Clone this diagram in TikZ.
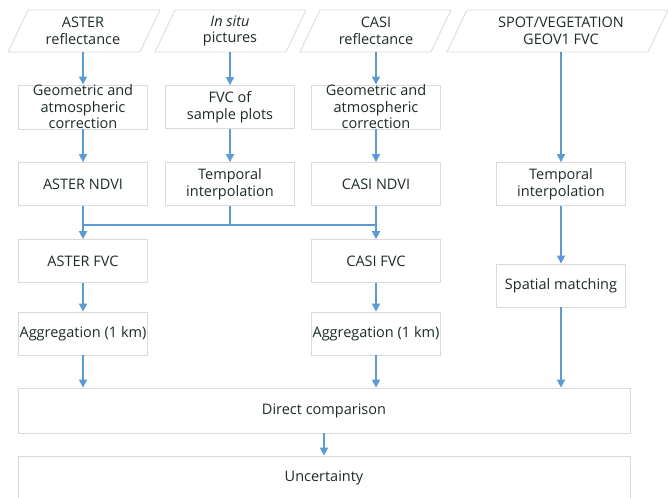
\documentclass[tikz,border=0pt]{standalone}
\usepackage{fontspec}
\setmainfont{Open Sans}
\usetikzlibrary{arrows.meta,calc}
\definecolor{arrowblue}{HTML}{5B9BD5}
\definecolor{boxline}{HTML}{DADADA}
\definecolor{txt}{HTML}{1E2B2B}
\begin{document}
\begin{tikzpicture}[x=1pt,y=-1pt,
  txtfont/.style={font=\fontsize{14.5}{16.5}\selectfont},
  box/.style={draw=boxline,line width=0.8pt,fill=white,minimum width=129pt,minimum height=43pt,align=center,text=txt,txtfont,inner sep=0pt},
  lbl/.style={align=center,text=txt,txtfont,inner sep=0pt,minimum height=42pt,minimum width=100pt},
  parabox/.style={draw=boxline,line width=0.8pt,fill=white},
  arr/.style={draw=arrowblue,line width=1.6pt,-{Triangle[width=8pt,length=8pt]}},
  ln/.style={draw=arrowblue,line width=1.6pt}]
\useasboundingbox (0,0) rectangle (668,497);

% parallelograms
\draw[parabox] (8,52) -- (140,52) -- (160,10) -- (28,10) -- cycle;
\node[lbl] (asterR) at (83,31) {ASTER\\reflectance};
\draw[parabox] (155,52) -- (286,52) -- (306,10) -- (175,10) -- cycle;
\node[lbl] (insitu) at (230,31) {\textit{In situ}\\pictures};
\draw[parabox] (300,52) -- (431,52) -- (451,10) -- (320,10) -- cycle;
\node[lbl] (casiR) at (376,31) {CASI\\reflectance};
\draw[parabox] (447,52) -- (648,52) -- (668,10) -- (467,10) -- cycle;
\node[lbl,minimum width=180pt] (spot) at (561,31) {SPOT/VEGETATION\\GEOV1 FVC};

% row 2
\node[box] (geoA) at (83,107) {Geometric and\\atmospheric\\correction};
\node[box] (fvcs) at (230,107) {FVC of\\sample plots};
\node[box] (geoC) at (376,107) {Geometric and\\atmospheric\\correction};

% row 3
\node[box] (ndviA) at (83,184) {ASTER NDVI};
\node[box] (tiB) at (230,184) {Temporal\\interpolation};
\node[box] (ndviC) at (376,184) {CASI NDVI};
\node[box] (tiD) at (561,184) {Temporal\\interpolation};

% row 4
\node[box] (fvcA) at (83,261) {ASTER FVC};
\node[box] (fvcC) at (376,261) {CASI FVC};
\node[box] (sm) at (561,285.5) {Spatial matching};

% row 5
\node[box] (aggA) at (83,333.5) {Aggregation (1 km)};
\node[box] (aggC) at (376,333.5) {Aggregation (1 km)};

% bottom
\node[box,minimum width=612pt,minimum height=45pt] (direct) at (324,410.5) {Direct comparison};
\node[box,minimum width=612pt,minimum height=43pt] (unc) at (324,477.5) {Uncertainty};

\coordinate (j) at (0,225);

% arrows
\draw[arr] (asterR) -- (geoA);
\draw[arr] (insitu) -- (fvcs);
\draw[arr] (casiR) -- (geoC);
\draw[arr] (spot.south) -- (spot.south |- tiD.north);

\draw[arr] (geoA) -- (ndviA);
\draw[arr] (fvcs) -- (tiB);
\draw[arr] (geoC) -- (ndviC);

\draw[arr] (ndviA) -- (fvcA);
\draw[arr] (ndviC) -- (fvcC);
\draw[ln] (tiB.south) -- (tiB.south |- j);
\draw[ln] (ndviA.south |- j) -- (ndviC.south |- j);
\draw[arr] (tiD.south) -- (tiD.south |- sm.north);

\draw[arr] (fvcA) -- (aggA);
\draw[arr] (fvcC) -- (aggC);

\draw[arr] (aggA.south) -- (aggA.south |- direct.north);
\draw[arr] (aggC.south) -- (aggC.south |- direct.north);
\draw[arr] (sm.south) -- (sm.south |- direct.north);

\draw[arr] (direct.south) -- (unc.north);
\end{tikzpicture}
\end{document}
